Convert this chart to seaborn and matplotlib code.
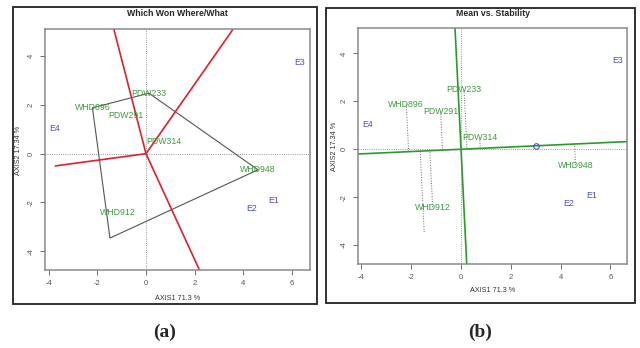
"""
GGE biplots: which-won-where polygon and mean vs. stability view.
"""

import matplotlib
matplotlib.use("Agg")
import matplotlib.pyplot as plt
from matplotlib.patches import Rectangle
import seaborn as sns
import numpy as np

# -------------------------------------------------------------------
# data (biplot scores)
# -------------------------------------------------------------------
gen_names = ["PDW233", "WHD896", "PDW291", "PDW314", "WHD948", "WHD912", ""]
gen_x = [0.12, -2.20, -0.82, 0.75, 4.60, -1.14, -1.48]
gen_y = [2.48, 1.88, 1.58, 0.48, -0.66, -2.42, -3.46]

env_names = ["E1", "E2", "E3", "E4"]
env_x = [5.25, 4.34, 6.30, -3.77]
env_y = [-1.93, -2.25, 3.72, 1.04]

hull_order = ["PDW233", "WHD948", "", "WHD896"]
ray_len = [12, 12, 3.76, 12]

x_label = "AXIS1 71.3 %"
y_label = "AXIS2 17.34 %"

GREEN = "#3c9c3c"
BLUE = "#4f4fc4"
FRAME = "#8a8a8a"

sns.set_style("white")
plt.rcParams["font.family"] = ["Liberation Sans", "DejaVu Sans"]
plt.rcParams["axes.unicode_minus"] = False

fig = plt.figure(figsize=(6.4, 3.48), dpi=100)

# outer boxes
fig.patches.append(Rectangle((0.0203, 0.1264), 0.475, 0.8534, transform=fig.transFigure,
                             fill=False, edgecolor="#222222", lw=1.3))
fig.patches.append(Rectangle((0.5094, 0.1293), 0.4828, 0.8477, transform=fig.transFigure,
                             fill=False, edgecolor="#222222", lw=1.3))

ax_a = fig.add_axes([0.0703, 0.2241, 0.4141, 0.6917])
ax_b = fig.add_axes([0.5594, 0.2414, 0.4203, 0.6773])


def style_axes(ax, xlim, ylim):
    ax.set_xlim(*xlim)
    ax.set_ylim(*ylim)
    ax.set_xticks([-4, -2, 0, 2, 4, 6])
    ax.set_yticks([-4, -2, 0, 2, 4])
    ax.tick_params(axis="both", labelsize=5.5, length=3.5, width=0.6,
                   colors="#555555", pad=4, direction="out")
    ax.tick_params(axis="x", bottom=True)
    ax.tick_params(axis="y", left=True)
    for t in ax.get_yticklabels():
        t.set_rotation(90)
        t.set_va("center")
    for s in ax.spines.values():
        s.set_color(FRAME)
        s.set_linewidth(1.1)
    ax.axhline(0, color="#777777", ls=":", lw=0.6)
    ax.axvline(0, color="#777777", ls=":", lw=0.6)


def put_labels(ax):
    for n, x, y in zip(gen_names, gen_x, gen_y):
        if n:
            ax.text(x, y, n, color=GREEN, fontsize=6.3, ha="center", va="center")
    for n, x, y in zip(env_names, env_x, env_y):
        ax.text(x, y, n, color=BLUE, fontsize=6.3, ha="center", va="center")


# -------------------------------------------------------------------
# (a) Which won where/what
# -------------------------------------------------------------------
style_axes(ax_a, (-4.15, 6.74), (-4.77, 5.1))
gx = np.array(gen_x)
gy = np.array(gen_y)
idx = [gen_names.index(n) for n in hull_order]
hx = np.append(gx[idx], gx[idx[0]])
hy = np.append(gy[idx], gy[idx[0]])
sns.lineplot(x=hx, y=hy, sort=False, estimator=None, color="#555555", lw=0.8, ax=ax_a)

# rays from origin, perpendicular to each polygon side
for i in range(len(idx)):
    p1 = np.array([hx[i], hy[i]])
    p2 = np.array([hx[i + 1], hy[i + 1]])
    d = p2 - p1
    foot = p1 - d * np.dot(p1, d) / np.dot(d, d)
    u = foot / np.linalg.norm(foot)
    ax_a.plot([0, u[0] * ray_len[i]], [0, u[1] * ray_len[i]], color="#e0202a", lw=1.2)
put_labels(ax_a)

fig.text(0.2773, 1 - 14 / 348, "Which Won Where/What", ha="center", va="center",
         fontsize=6.3, fontweight="bold")
fig.text(0.2773, 1 - 298 / 348, x_label, ha="center", va="center", fontsize=5.2, color="#333333")
fig.text(18 / 640, 1 - 150 / 348, y_label, ha="center", va="center", fontsize=5.2,
         color="#333333", rotation=90)

# -------------------------------------------------------------------
# (b) Mean vs. Stability
# -------------------------------------------------------------------
style_axes(ax_b, (-4.14, 6.67), (-4.79, 5.05))
avg = np.array([np.mean(env_x), np.mean(env_y)])
u = avg / np.linalg.norm(avg)
v = np.array([-u[1], u[0]])
ax_b.plot([-12 * u[0], 12 * u[0]], [-12 * u[1], 12 * u[1]], color="#2a9a2a", lw=1.2)
ax_b.plot([-12 * v[0], 12 * v[0]], [-12 * v[1], 12 * v[1]], color="#2a9a2a", lw=1.2)
for x, y in zip(gen_x, gen_y):
    f = np.dot([x, y], u) * u
    ax_b.plot([x, f[0]], [y, f[1]], color="#666666", ls=":", lw=0.7)
ax_b.plot(avg[0], avg[1], marker="o", ms=4, mfc="none", mec=BLUE, mew=0.8)
put_labels(ax_b)

fig.text(492.5 / 640, 1 - 13.5 / 348, "Mean vs. Stability", ha="center", va="center",
         fontsize=6.3, fontweight="bold")
fig.text(492.5 / 640, 1 - 291 / 348, x_label, ha="center", va="center", fontsize=5.2, color="#333333")
fig.text(334 / 640, 1 - 146 / 348, y_label, ha="center", va="center", fontsize=5.2,
         color="#333333", rotation=90)

# panel letters
fig.text(165 / 640, 1 - 332 / 348, "(a)", ha="center", va="center", fontsize=14,
         fontweight="bold", family="Liberation Serif")
fig.text(480 / 640, 1 - 332 / 348, "(b)", ha="center", va="center", fontsize=14,
         fontweight="bold", family="Liberation Serif")

fig.savefig("out.png", dpi=100)
